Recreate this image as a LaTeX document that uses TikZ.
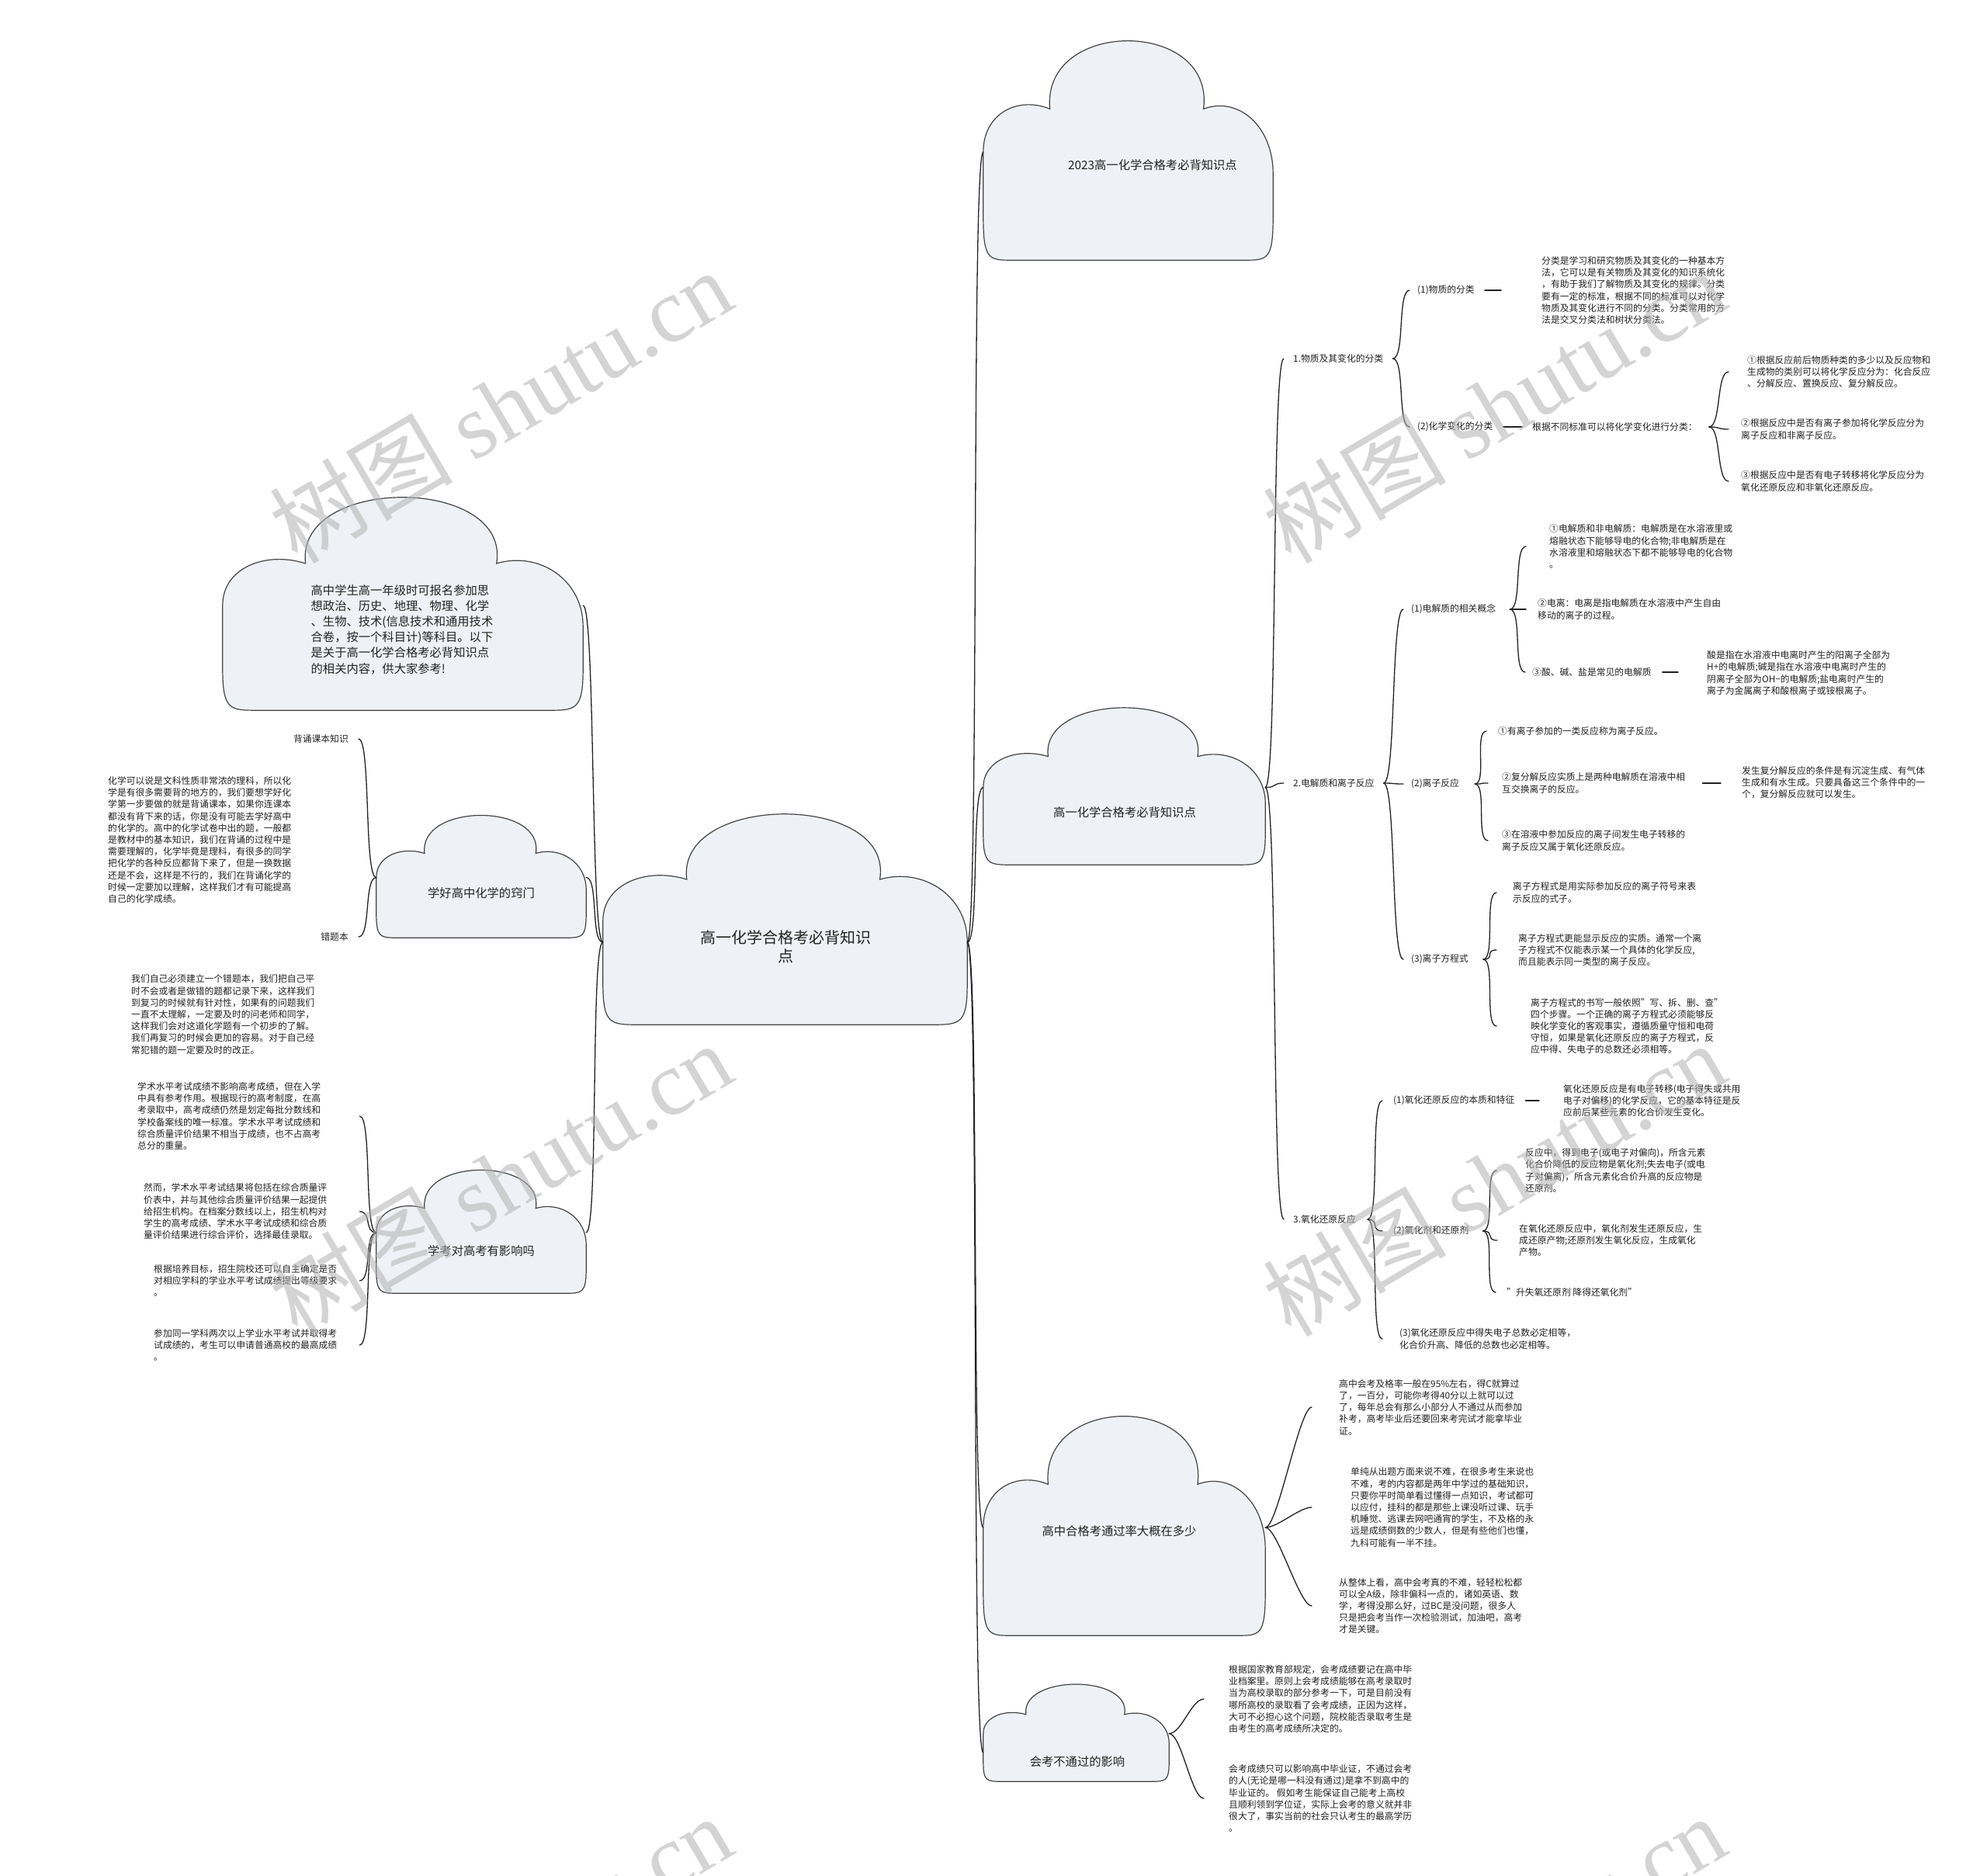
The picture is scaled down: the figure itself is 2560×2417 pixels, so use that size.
\documentclass[tikz,border=0pt]{standalone}
\usepackage{fontspec}
\setmainfont{Noto Sans CJK SC}
\newfontfamily\cjk{Noto Sans CJK SC}
\newfontfamily\wmlat{Liberation Serif}
\usetikzlibrary{calc}
\definecolor{cloudfill}{HTML}{EEF1F5}
\definecolor{inkc}{HTML}{222222}
\tikzset{
 conn/.style={draw=inkc, line width=1.3pt, line cap=round},
 cloudst/.style={fill=cloudfill, draw=inkc!85, line width=1.2pt},
 cloudbox/.style={shape=rectangle, inner sep=0pt, draw=none},
 pin0/.style={shape=rectangle, inner sep=0pt, minimum size=0pt, draw=none},
 tx/.style={font=\fontsize{11.8}{15.2}\selectfont, align=left, inner sep=0pt, anchor=west, text=inkc},
 txr/.style={tx, anchor=east, align=right},
 cl/.style={font=\fontsize{15.3}{20.2}\selectfont, align=center, inner sep=0pt, text=inkc},
 wm/.style={font=\fontsize{118}{120}\selectfont, text=black!30, opacity=0.55, rotate=30.5, inner sep=0pt}
}
\newcommand\cloudpath[1]{%
\path[cloudst] let \p1=(#1.south west), \p2=(#1.north east), \n1={\x2-\x1}, \n2={\y2-\y1} in
 (\x1, \y1+0.5*\n2) -- (\x1, \y1+0.2*\n2)
 .. controls (\x1, \y1) and (\x1+0.02*\n1, \y1) .. (\x1+0.1*\n1, \y1)
 -- (\x2-0.1*\n1, \y1)
 .. controls (\x2-0.02*\n1, \y1) and (\x2, \y1) .. (\x2, \y1+0.2*\n2)
 -- (\x2, \y1+0.4*\n2)
 .. controls (\x2, \y1+0.62*\n2) and (\x1+0.88*\n1, \y1+0.76*\n2) .. (\x1+0.76*\n1, \y1+0.7*\n2)
 .. controls (\x1+0.8*\n1, \y1+1.12*\n2) and (\x1+0.2*\n1, \y1+1.12*\n2) .. (\x1+0.23*\n1, \y1+0.7*\n2)
 .. controls (\x1+0.12*\n1, \y1+0.76*\n2) and (\x1, \y1+0.68*\n2) .. (\x1, \y1+0.5*\n2) -- cycle;}
\newcommand\rbr[4]{\draw[conn] ($(#1.east)+(#3,0)$) .. controls +(16,0) and +(-16,0) .. ($(#2.west)+(-#4,0)$);}
\newcommand\lbr[4]{\draw[conn] ($(#1.west)+(-#3,0)$) .. controls +(-16,0) and +(16,0) .. ($(#2.east)+(#4,0)$);}
\newcommand\dsh[4]{\draw[conn] ($(#1.east)+(#3,0)$) -- ($(#1.east -| #2.west)+(-#4,0)$);}
\begin{document}
\begin{tikzpicture}[x=1pt,y=-1pt]
\fill[white] (0,0) rectangle (2560,2417);
\useasboundingbox (0,0) rectangle (2560,2417);

% ---------- clouds ----------
\node[cloudbox, minimum width=469, minimum height=267] (c0) at (1011.5,1186.5) {};
\cloudpath{c0}
\node[font=\fontsize{20}{24.5}\selectfont, align=center, inner sep=0pt, text=inkc] (c0t) at (1012,1220) {高一化学合格考必背知识\\点};
\node[pin0] (c0R) at (1246,1214) {};
\node[pin0] (c0L) at (777,1214) {};

\node[cloudbox, minimum width=373, minimum height=278] (c1) at (1453.5,196) {};
\cloudpath{c1}
\node[cl] (c1t) at (1485,213) {2023高一化学合格考必背知识点};

\node[cloudbox, minimum width=363, minimum height=199] (c2) at (1448.5,1014.5) {};
\cloudpath{c2}
\node[cl] (c2t) at (1449,1047) {高一化学合格考必背知识点};

\node[cloudbox, minimum width=363, minimum height=278] (c3) at (1448.5,1968) {};
\cloudpath{c3}
\node[cl] (c3t) at (1442,1973) {高中合格考通过率大概在多少};

\node[cloudbox, minimum width=239, minimum height=123] (c4) at (1386.5,2233.5) {};
\cloudpath{c4}
\node[cl] (c4t) at (1388,2270) {会考不通过的影响};
\node[pin0] (c4L) at (1267,2258) {};

\node[cloudbox, minimum width=464, minimum height=270] (l0) at (519,780) {};
\cloudpath{l0}
\node[cl, align=left] (l0t) at (518,811) {高中学生高一年级时可报名参加思\\想政治、历史、地理、物理、化学\\、生物、技术(信息技术和通用技术\\合卷，按一个科目计)等科目。以下\\是关于高一化学合格考必背知识点\\的相关内容，供大家参考!};

\node[cloudbox, minimum width=270, minimum height=155] (l1) at (620,1130.5) {};
\cloudpath{l1}
\node[cl] (l1t) at (620,1151) {学好高中化学的窍门};

\node[cloudbox, minimum width=270, minimum height=156] (l2) at (620,1588) {};
\cloudpath{l2}
\node[cl] (l2t) at (620,1612) {学考对高考有影响吗};

% ---------- center connectors ----------
\rbr{c0R}{c1}{0}{0}
\rbr{c0R}{c2}{0}{0}
\rbr{c0R}{c3}{0}{0}
\rbr{c0R}{c4L}{0}{0}
\lbr{c0L}{l0}{0}{0}
\lbr{c0L}{l1}{0}{0}
\lbr{c0L}{l2}{0}{0}

% ---------- branch 1 ----------
\node[tx] (R1) at (1666,462) {1.物质及其变化的分类};
\node[tx] (R1a) at (1826,374) {(1)物质的分类};
\node[tx] (T1) at (1986,374) {分类是学习和研究物质及其变化的一种基本方\\法，它可以是有关物质及其变化的知识系统化\\，有助于我们了解物质及其变化的规律。分类\\要有一定的标准，根据不同的标准可以对化学\\物质及其变化进行不同的分类。分类常用的方\\法是交叉分类法和树状分类法。};
\node[tx] (R1b) at (1826,550) {(2)化学变化的分类};
\node[tx] (R1b1) at (1974,550) {根据不同标准可以将化学变化进行分类：};
\node[tx] (R1b1a) at (2251,479) {①根据反应前后物质种类的多少以及反应物和\\生成物的类别可以将化学反应分为：化合反应\\、分解反应、置换反应、复分解反应。};
\node[tx] (R1b1b) at (2243,553) {②根据反应中是否有离子参加将化学反应分为\\离子反应和非离子反应。};
\node[tx] (R1b1c) at (2243,620) {③根据反应中是否有电子转移将化学反应分为\\氧化还原反应和非氧化还原反应。};

\rbr{c2}{R1}{0}{12}
\rbr{R1}{R1a}{12}{10}
\rbr{R1}{R1b}{12}{10}
\dsh{R1a}{T1}{13}{52}
\dsh{R1b}{R1b1}{13}{13}
\rbr{R1b1}{R1b1a}{15}{24}
\rbr{R1b1}{R1b1b}{15}{16}
\rbr{R1b1}{R1b1c}{15}{16}

% ---------- branch 2 ----------
\node[tx] (R2) at (1666,1009) {2.电解质和离子反应};
\node[tx] (R2a) at (1818,785) {(1)电解质的相关概念};
\node[tx] (R2a1) at (1996,704) {①电解质和非电解质：电解质是在水溶液里或\\熔融状态下能够导电的化合物;非电解质是在\\水溶液里和熔融状态下都不能够导电的化合物\\。};
\node[tx] (R2a2) at (1981,785) {②电离：电离是指电解质在水溶液中产生自由\\移动的离子的过程。};
\node[tx] (R2a3) at (1974,866) {③酸、碱、盐是常见的电解质};
\node[tx] (R2a3x) at (2199,867) {酸是指在水溶液中电离时产生的阳离子全部为\\H+的电解质;碱是指在水溶液中电离时产生的\\阴离子全部为OH−的电解质;盐电离时产生的\\离子为金属离子和酸根离子或铵根离子。};
\node[tx] (R2b) at (1818,1010) {(2)离子反应};
\node[tx] (R2b1) at (1930,942) {①有离子参加的一类反应称为离子反应。};
\node[tx] (R2b2) at (1935,1009) {②复分解反应实质上是两种电解质在溶液中相\\互交换离子的反应。};
\node[tx] (R2b2x) at (2244,1008) {发生复分解反应的条件是有沉淀生成、有气体\\生成和有水生成。只要具备这三个条件中的一\\个，复分解反应就可以发生。};
\node[tx] (R2b3) at (1935,1083) {③在溶液中参加反应的离子间发生电子转移的\\离子反应又属于氧化还原反应。};
\node[tx] (R2c) at (1818,1236) {(3)离子方程式};
\node[tx] (R2c1) at (1949,1150) {离子方程式是用实际参加反应的离子符号来表\\示反应的式子。};
\node[tx] (R2c2) at (1956,1224) {离子方程式更能显示反应的实质。通常一个离\\子方程式不仅能表示某一个具体的化学反应,\\而且能表示同一类型的离子反应。};
\node[tx] (R2c3) at (1972,1322) {离子方程式的书写一般依照"写、拆、删、查"\\四个步骤。一个正确的离子方程式必须能够反\\映化学变化的客观事实，遵循质量守恒和电荷\\守恒，如果是氧化还原反应的离子方程式，反\\应中得、失电子的总数还必须相等。};

\rbr{c2}{R2}{0}{12}
\rbr{R2}{R2a}{12}{10}
\rbr{R2}{R2b}{12}{10}
\rbr{R2}{R2c}{12}{10}
\rbr{R2a}{R2a1}{18}{30}
\rbr{R2a}{R2a2}{18}{15}
\rbr{R2a}{R2a3}{18}{9}
\dsh{R2a3}{R2a3x}{14}{37}
\rbr{R2b}{R2b1}{20}{15}
\rbr{R2b}{R2b2}{20}{18}
\rbr{R2b}{R2b3}{20}{18}
\dsh{R2b2}{R2b2x}{22}{27}
\rbr{R2c}{R2c1}{19}{21}
\rbr{R2c}{R2c2}{19}{28}
\rbr{R2c}{R2c3}{19}{44}

% ---------- branch 3 ----------
\node[tx] (R3) at (1666,1571) {3.氧化还原反应};
\node[tx] (R3a) at (1795,1418) {(1)氧化还原反应的本质和特征};
\node[tx] (R3ax) at (2014,1418) {氧化还原反应是有电子转移(电子得失或共用\\电子对偏移)的化学反应，它的基本特征是反\\应前后某些元素的化合价发生变化。};
\node[tx] (R3b) at (1795,1586) {(2)氧化剂和还原剂};
\node[tx] (R3b1) at (1965,1508) {反应中，得到电子(或电子对偏向)，所含元素\\化合价降低的反应物是氧化剂;失去电子(或电\\子对偏离)，所含元素化合价升高的反应物是\\还原剂。};
\node[tx] (R3b2) at (1957,1598) {在氧化还原反应中，氧化剂发生还原反应，生\\成还原产物;还原剂发生氧化反应，生成氧化\\产物。};
\node[tx] (R3b3) at (1941,1665) {"升失氧还原剂 降得还氧化剂"};
\node[tx] (R3c) at (1803,1725) {(3)氧化还原反应中得失电子总数必定相等，\\化合价升高、降低的总数也必定相等。};

\rbr{c2}{R3}{0}{12}
\rbr{R3}{R3a}{15}{14}
\rbr{R3}{R3b}{15}{14}
\rbr{R3}{R3c}{15}{22}
\dsh{R3a}{R3ax}{14}{31}
\rbr{R3b}{R3b1}{18}{37}
\rbr{R3b}{R3b2}{18}{28}
\rbr{R3b}{R3b3}{18}{14}

% ---------- pass rate ----------
\node[tx] (K1) at (1725,1813) {高中会考及格率一般在95\%左右，得C就算过\\了，一百分，可能你考得40分以上就可以过\\了，每年总会有那么小部分人不通过从而参加\\补考，高考毕业后还要回来考完试才能拿毕业\\证。};
\node[tx] (K2) at (1740,1942) {单纯从出题方面来说不难，在很多考生来说也\\不难，考的内容都是两年中学过的基础知识，\\只要你平时简单看过懂得一点知识，考试都可\\以应付，挂科的都是那些上课没听过课、玩手\\机睡觉、逃课去网吧通宵的学生，不及格的永\\远是成绩倒数的少数人，但是有些他们也懂，\\九科可能有一半不挂。};
\node[tx] (K3) at (1725,2069) {从整体上看，高中会考真的不难，轻轻松松都\\可以全A级，除非偏科一点的，诸如英语、数\\学，考得没那么好，过BC是没问题，很多人\\只是把会考当作一次检验测试，加油吧，高考\\才是关键。};
\rbr{c3}{K1}{0}{35}
\rbr{c3}{K2}{0}{50}
\rbr{c3}{K3}{0}{35}

% ---------- fail impact ----------
\node[tx] (M1) at (1583,2189) {根据国家教育部规定，会考成绩要记在高中毕\\业档案里。原则上会考成绩能够在高考录取时\\当为高校录取的部分参考一下，可是目前没有\\哪所高校的录取看了会考成绩，正因为这样，\\大可不必担心这个问题，院校能否录取考生是\\由考生的高考成绩所决定的。};
\node[tx] (M2) at (1583,2317) {会考成绩只可以影响高中毕业证，不通过会考\\的人(无论是哪一科没有通过)是拿不到高中的\\毕业证的。 假如考生能保证自己能考上高校\\且顺利领到学位证，实际上会考的意义就并非\\很大了，事实当前的社会只认考生的最高学历\\。};
\rbr{c4}{M1}{0}{32}
\rbr{c4}{M2}{0}{32}

% ---------- left: tips ----------
\node[txr] (S1) at (449,952) {背诵课本知识};
\node[txr] (S2) at (449,1207) {错题本};
\node[tx] (S1x) at (139,1082) {化学可以说是文科性质非常浓的理科，所以化\\学是有很多需要背的地方的，我们要想学好化\\学第一步要做的就是背诵课本，如果你连课本\\都没有背下来的话，你是没有可能去学好高中\\的化学的。高中的化学试卷中出的题，一般都\\是教材中的基本知识，我们在背诵的过程中是\\需要理解的，化学毕竟是理科，有很多的同学\\把化学的各种反应都背下来了，但是一换数据\\还是不会，这样是不行的，我们在背诵化学的\\时候一定要加以理解，这样我们才有可能提高\\自己的化学成绩。};
\node[tx] (S2x) at (169,1307) {我们自己必须建立一个错题本，我们把自己平\\时不会或者是做错的题都记录下来，这样我们\\到复习的时候就有针对性，如果有的问题我们\\一直不太理解，一定要及时的问老师和同学，\\这样我们会对这道化学题有一个初步的了解。\\我们再复习的时候会更加的容易。对于自己经\\常犯错的题一定要及时的改正。};
\lbr{l1}{S1}{0}{13}
\lbr{l1}{S2}{0}{13}

% ---------- left: influence ----------
\node[tx] (B1) at (177,1438) {学术水平考试成绩不影响高考成绩，但在入学\\中具有参考作用。根据现行的高考制度，在高\\考录取中，高考成绩仍然是划定每批分数线和\\学校备案线的唯一标准。学术水平考试成绩和\\综合质量评价结果不相当于成绩，也不占高考\\总分的重量。};
\node[tx] (B2) at (185,1561) {然而，学术水平考试结果将包括在综合质量评\\价表中，并与其他综合质量评价结果一起提供\\给招生机构。在档案分数线以上，招生机构对\\学生的高考成绩、学术水平考试成绩和综合质\\量评价结果进行综合评价，选择最佳录取。};
\node[tx] (B3) at (198,1650) {根据培养目标，招生院校还可以自主确定是否\\对相应学科的学业水平考试成绩提出等级要求\\。};
\node[tx] (B4) at (198,1733) {参加同一学科两次以上学业水平考试并取得考\\试成绩的，考生可以申请普通高校的最高成绩\\。};
\lbr{l2}{B1}{0}{50}
\lbr{l2}{B2}{0}{42}
\lbr{l2}{B3}{0}{29}
\lbr{l2}{B4}{0}{29}

% ---------- watermark ----------
\begin{scope}
\clip (0,0) rectangle (2560,2417);
\foreach \wx/\wy [count=\wi] in {645/523, 1925/523, 645/1519, 1925/1519, 645/2515, 1925/2515}{
 \node[wm] (wm\wi) at (\wx,\wy) {树图 {\wmlat shutu.cn}};
}
\end{scope}
\end{tikzpicture}
\end{document}
